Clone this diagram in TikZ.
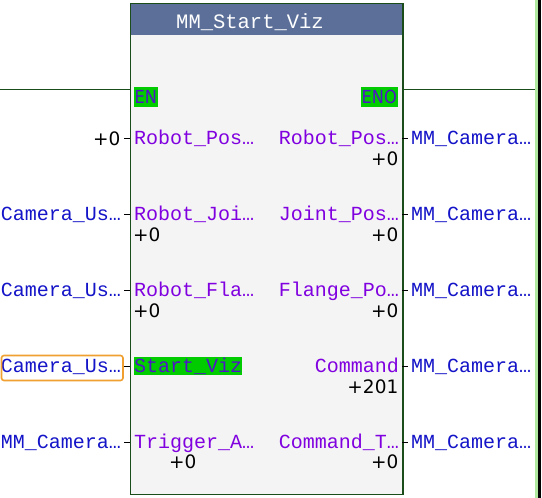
\documentclass[tikz,border=0pt]{standalone}
\usepackage{fontspec}
\newfontfamily\monof{Liberation Mono}
\newfontfamily\sansf{DejaVu Sans}
\newfontfamily\ensf{DejaVu Sans Condensed}
\definecolor{hdr}{RGB}{91,111,153}
\definecolor{body}{RGB}{244,244,244}
\definecolor{bord}{RGB}{26,77,26}
\definecolor{pin}{RGB}{128,0,224}
\definecolor{var}{RGB}{20,20,200}
\definecolor{engreen}{RGB}{0,204,0}
\definecolor{entext}{RGB}{80,20,200}
\definecolor{railg}{RGB}{176,232,160}
\definecolor{sel}{RGB}{240,160,48}
\tikzset{
  x=1pt,y=-1pt,
  pinlab/.style={inner sep=0pt,text=pin,font=\monof\fontsize{20}{22}\selectfont},
  varlab/.style={inner sep=0pt,text=var,font=\monof\fontsize{20}{22}\selectfont},
  vallab/.style={inner sep=0pt,text=black,font=\sansf\fontsize{18.5}{20}\selectfont},
  enlab/.style={inner sep=0pt,text=entext,font=\ensf\fontsize{18}{20}\selectfont},
  wire/.style={draw=bord,line width=1pt},
  stub/.style={draw=black,line width=0.8pt},
}
\begin{document}
\begin{tikzpicture}
\useasboundingbox (0,0) rectangle (542,498);
\fill[white] (0,0) rectangle (542,498);
% right rail
\fill[railg] (535,0) rectangle (538,498);
\fill[black] (538,0) rectangle (541,498);
% block
\node[draw=bord,line width=1pt,fill=body,minimum width=272pt,minimum height=490pt,inner sep=0pt,anchor=north west] (blk) at (130,3.5) {};
\fill[hdr] (130.5,4) rectangle (401.5,35);
\draw[bord,line width=1pt] (blk.north west) rectangle (blk.south east);
\node[inner sep=0pt,anchor=base west,text=white,font=\monof\fontsize{20.5}{22}\selectfont] (title) at (176,28.3) {MM\_Start\_Viz};
% EN / ENO
\coordinate (lrail) at (0,89.3);
\coordinate (rrail) at (535,89.3);
\coordinate (enin) at (130,89.3);
\coordinate (enout) at (402,89.3);
\draw[wire] (lrail) -- (enin);
\draw[wire] (enout) -- (rrail);
\fill[engreen] (134,87) rectangle (157.5,107);
\node[enlab,anchor=base west] (en) at (134.5,103.5) {EN};
\fill[engreen] (361,87) rectangle (397.7,107);
\node[enlab,anchor=base east] (eno) at (397,103.5) {ENO};
% stub end points
\foreach \r/\y in {1/138.5,2/214.5,3/290.5,4/366.5,5/442.5}{
  \coordinate (ls\r) at (124,\y);
  \coordinate (lb\r) at (130,\y);
  \coordinate (rb\r) at (402,\y);
  \coordinate (rs\r) at (407.5,\y);
  \draw[stub] (ls\r) -- (lb\r);
  \draw[stub] (rb\r) -- (rs\r);
}
% row 1
\node[pinlab,anchor=base west] (i1) at (134,144) {Robot\_Pos…};
\node[vallab,anchor=base east] (v1) at (120.5,145) {+0};
\node[pinlab,anchor=base east] (o1) at (399,144) {Robot\_Pos…};
\node[vallab,anchor=base east] (ov1) at (398.5,165) {+0};
\node[varlab,anchor=base west] (r1) at (411,144) {MM\_Camera…};
% row 2
\node[pinlab,anchor=base west] (i2) at (134,220) {Robot\_Joi…};
\node[vallab,anchor=base west] (iv2) at (133,241.5) {+0};
\node[varlab,anchor=base east] (l2) at (121,220) {Camera\_Us…};
\node[pinlab,anchor=base east] (o2) at (399,220) {Joint\_Pos…};
\node[vallab,anchor=base east] (ov2) at (398.5,241.5) {+0};
\node[varlab,anchor=base west] (r2) at (411,220) {MM\_Camera…};
% row 3
\node[pinlab,anchor=base west] (i3) at (134,296) {Robot\_Fla…};
\node[vallab,anchor=base west] (iv3) at (133,317) {+0};
\node[varlab,anchor=base east] (l3) at (121,296) {Camera\_Us…};
\node[pinlab,anchor=base east] (o3) at (399,296) {Flange\_Po…};
\node[vallab,anchor=base east] (ov3) at (398.5,317) {+0};
\node[varlab,anchor=base west] (r3) at (411,296) {MM\_Camera…};
% row 4
\fill[engreen] (134,357) rectangle (242,375);
\node[pinlab,text=entext,anchor=base west] (i4) at (134,372) {Start\_Viz};
\node[varlab,anchor=base east] (l4) at (121,372) {Camera\_Us…};
\draw[sel,line width=1.6pt,rounded corners=2.5pt] (1.5,355.5) rectangle (123,380.5);
\node[pinlab,anchor=base east] (o4) at (399,372) {Command};
\node[vallab,anchor=base east] (ov4) at (398.5,393) {+201};
\node[varlab,anchor=base west] (r4) at (411,372) {MM\_Camera…};
% row 5
\node[pinlab,anchor=base west] (i5) at (134,448) {Trigger\_A…};
\node[vallab,anchor=base west] (iv5) at (169,468.5) {+0};
\node[varlab,anchor=base east] (l5) at (121,448) {MM\_Camera…};
\node[pinlab,anchor=base east] (o5) at (399,448) {Command\_T…};
\node[vallab,anchor=base east] (ov5) at (398.5,468.5) {+0};
\node[varlab,anchor=base west] (r5) at (411,448) {MM\_Camera…};
\end{tikzpicture}
\end{document}
